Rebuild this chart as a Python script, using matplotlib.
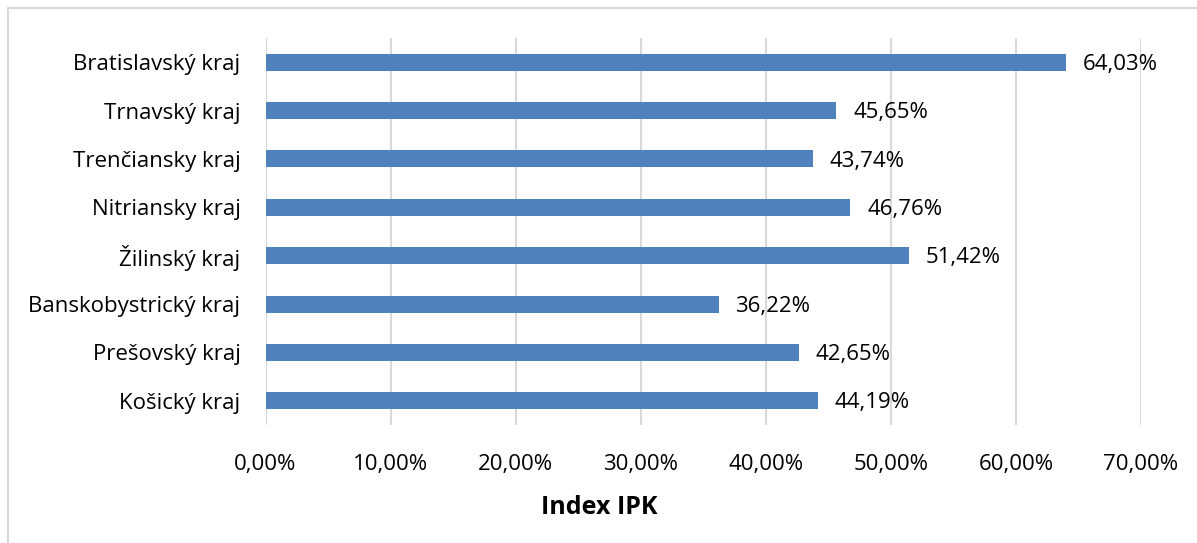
import matplotlib
matplotlib.use("Agg")
import matplotlib.pyplot as plt
from matplotlib.patches import Rectangle

categories = ["Bratislavský kraj", "Trnavský kraj", "Trenčiansky kraj", "Nitriansky kraj",
              "Žilinský kraj", "Banskobystrický kraj", "Prešovský kraj", "Košický kraj"]
values = [64.03, 45.65, 43.74, 46.76, 51.42, 36.22, 42.65, 44.19]
xticks = [0, 10, 20, 30, 40, 50, 60, 70]
xlabel = "Index IPK"

plt.rcParams['font.family'] = ['Open Sans', 'DejaVu Sans']

fig = plt.figure(figsize=(11.97, 5.43), dpi=100)
ax = fig.add_axes([265.5/1197, 118/543, (1141-265.5)/1197, 387/543])

n = len(categories)
ypos = list(range(n))
ax.barh(ypos, values, height=0.35, color='#4F81BD', zorder=3)
ax.set_ylim(n - 0.5, -0.5)
ax.set_xlim(0, 70)
ax.set_yticks(ypos)
ax.set_yticklabels(categories, fontsize=16, color='#000000')
ax.set_xticks(xticks)
ax.set_xticklabels([f"{t:.2f}%".replace('.', ',') for t in xticks], fontsize=16, color='#000000')
ax.tick_params(axis='both', length=0)
ax.tick_params(axis='y', pad=18)
ax.tick_params(axis='x', pad=21)
ax.grid(axis='x', color='#D9D9D9', linewidth=1.5, zorder=0)
for s in ax.spines.values():
    s.set_visible(False)

for y, v in zip(ypos, values):
    ax.annotate(f"{v:.2f}%".replace('.', ','), xy=(v, y), xytext=(12, -1.5),
                textcoords='offset points', va='center', ha='left', fontsize=16, color='#000000')

fig.text(599/1197, 1 - 507/543, xlabel, ha='center', va='center', fontsize=18,
         fontweight='bold', color='#000000')

# chart area border (extends beyond right/bottom edges)
fig.patches.append(Rectangle((8/1197, -0.1), 1.2, (1 - 8/543) + 0.1, transform=fig.transFigure,
                             fill=False, edgecolor='#D9D9D9', linewidth=1.5))

fig.savefig("out.png", dpi=100)
